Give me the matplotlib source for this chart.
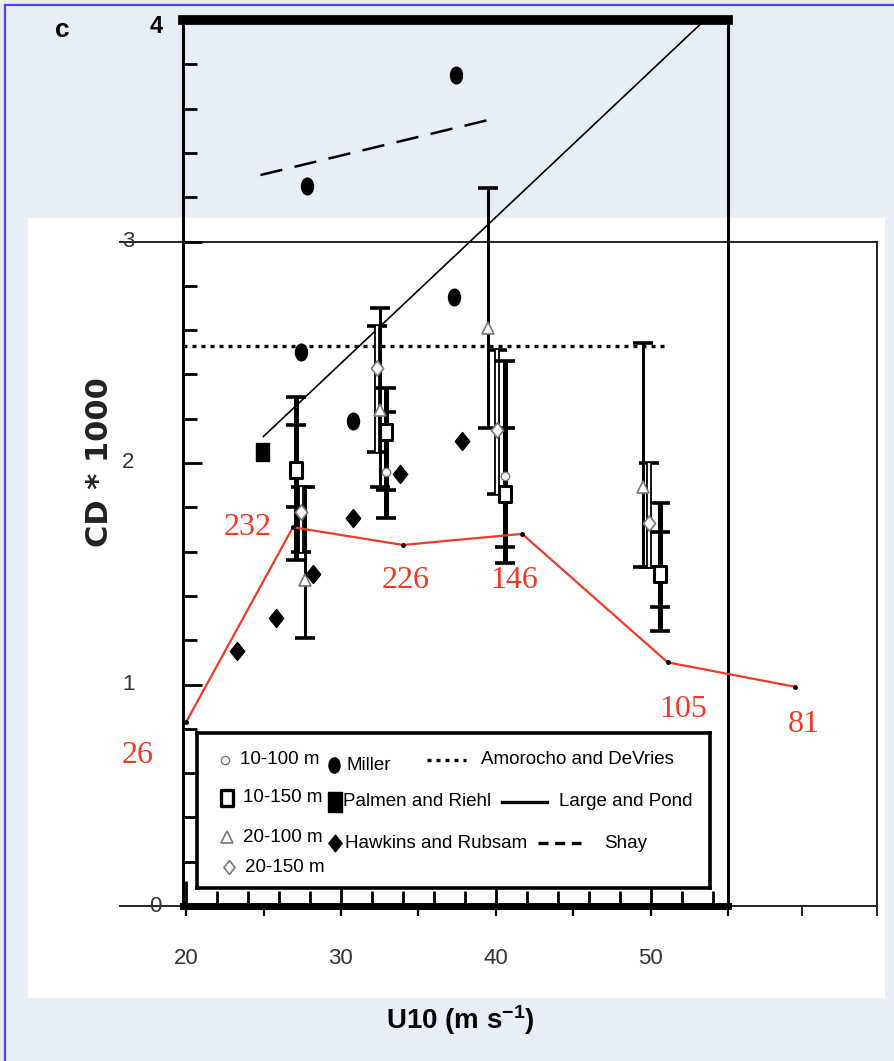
import numpy as np
import matplotlib.pyplot as plt
from matplotlib.path import Path
from matplotlib.lines import Line2D
from matplotlib.patches import Rectangle
from matplotlib.ticker import MultipleLocator

plt.rcParams['font.family'] = ['Liberation Sans', 'DejaVu Sans']
plt.rcParams['mathtext.default'] = 'regular'
SERIF = ['Liberation Serif', 'DejaVu Serif']

# ---- data ----
miller_x = [27.8, 37.4, 27.4, 30.8, 37.3]
miller_y = [3.25, 3.75, 2.50, 2.19, 2.75]
palmen_x = [24.9]
palmen_y = [2.05]
hawkins_x = [37.8, 33.8, 30.8, 28.2, 25.8, 23.3]
hawkins_y = [2.10, 1.95, 1.75, 1.50, 1.30, 1.15]
amorocho_x = [19.8, 50.9]
amorocho_y = [2.53, 2.53]
large_pond_x = [25.0, 53.5]
large_pond_y = [2.12, 4.00]
shay_x = [24.8, 39.6]
shay_y = [3.30, 3.55]

# profile groups: centre, low, high
p10_100_x = [27.1, 32.9, 40.6, 50.6]
p10_100_y = [1.97, 1.96, 1.94, 1.52]
p10_100_lo = [1.80, 1.88, 1.62, 1.35]
p10_100_hi = [2.17, 2.23, 2.16, 1.69]

p10_150_x = [27.1, 32.9, 40.6, 50.6]
p10_150_y = [1.97, 2.14, 1.86, 1.50]
p10_150_lo = [1.56, 1.75, 1.55, 1.24]
p10_150_hi = [2.30, 2.34, 2.46, 1.82]

p20_100_x = [27.7, 32.5, 39.5, 49.5]
p20_100_y = [1.47, 2.24, 2.61, 1.89]
p20_100_lo = [1.21, 1.89, 2.16, 1.53]
p20_100_hi = [1.89, 2.70, 3.24, 2.54]

p20_150_x = [27.4, 32.3, 40.1, 49.9]
p20_150_y = [1.78, 2.43, 2.15, 1.73]
p20_150_lo = [1.60, 2.05, 1.86, 1.53]
p20_150_hi = [1.89, 2.62, 2.51, 2.00]

# red overlay curve and its labels
red_x = [20.0, 26.9, 34.0, 41.7, 51.1, 59.3]
red_y = [0.83, 1.71, 1.63, 1.68, 1.10, 0.99]
red_labels = ['26', '232', '226', '146', '105', '81']
red_label_x = [16.9, 24.0, 34.2, 41.2, 52.1, 59.9]
red_label_y = [0.68, 1.71, 1.47, 1.47, 0.885, 0.82]

# frame of the pasted second chart
ov_left, ov_right = 15.7, 64.6
ov_ticks = [59.8, 64.6]

RED = '#f03a26'
GREY = '#777777'

# custom marker shapes
circ = Path.unit_circle()
ellipse = Path(circ.vertices * [0.72, 1.0], circ.codes)
tall_rect = Path([(-0.36, -0.5), (0.36, -0.5), (0.36, 0.5), (-0.36, 0.5), (-0.36, -0.5)],
                 [Path.MOVETO, Path.LINETO, Path.LINETO, Path.LINETO, Path.CLOSEPOLY])
open_rect = Path([(-0.36, -0.5), (0.36, -0.5), (0.36, 0.5), (-0.36, 0.5), (-0.36, -0.5)],
                 [Path.MOVETO, Path.LINETO, Path.LINETO, Path.LINETO, Path.CLOSEPOLY])
diamond = Path([(0, -0.5), (0.4, 0), (0, 0.5), (-0.4, 0), (0, -0.5)],
               [Path.MOVETO, Path.LINETO, Path.LINETO, Path.LINETO, Path.CLOSEPOLY])

fig = plt.figure(figsize=(8.94, 10.61), dpi=100, facecolor='#e8eef6')
fig.patches.append(Rectangle((28 / 894, 1 - 998 / 1061), 857 / 894, 780 / 1061,
                             transform=fig.transFigure, facecolor='white',
                             edgecolor='none', zorder=-5))
fig.add_artist(Line2D([5 / 894, 5 / 894], [0, 1 - 5 / 1061], transform=fig.transFigure,
                      color='#4a4ae6', lw=1.6))
fig.add_artist(Line2D([5 / 894, 1], [1 - 5 / 1061, 1 - 5 / 1061], transform=fig.transFigure,
                      color='#4a4ae6', lw=1.6))

ax = fig.add_axes([183 / 894, 1 - 906 / 1061, 545 / 894, 886 / 1061])
ax.set_zorder(2)
ax.set_facecolor('none')
ax.set_xlim(19.8, 55)
ax.set_ylim(0, 4)

# second chart frame lines (pasted on top)
ax.plot([ov_left, ov_right], [3, 3], color='#222222', lw=1.4, clip_on=False, zorder=1)
ax.plot([ov_left, ov_right], [0, 0], color='#222222', lw=1.4, clip_on=False, zorder=1)
ax.plot([ov_right, ov_right], [0, 3], color='#222222', lw=1.4, clip_on=False, zorder=1)
for t in ov_ticks:
    ax.plot([t, t], [0, -0.04], color='#222222', lw=1.4, clip_on=False, zorder=1)

# reference curves
ax.plot(amorocho_x, amorocho_y, color='k', lw=2.4, ls=(0, (1.2, 1.5)), zorder=2)
ax.plot(large_pond_x, large_pond_y, color='k', lw=1.2, zorder=2)
ax.plot(shay_x, shay_y, color='k', lw=1.8, ls=(0, (9, 5)), zorder=2)


def bars(x, y, lo, hi, lw, hollow=False):
    err = [np.subtract(y, lo), np.subtract(hi, y)]
    ax.errorbar(x, y, yerr=err, fmt='none', ecolor='k', elinewidth=lw,
                capsize=7, capthick=2.6, zorder=3)
    if hollow:
        ax.errorbar(x, y, yerr=err, fmt='none', ecolor='white', elinewidth=lw - 2.6,
                    capsize=0, zorder=3)


bars(p20_100_x, p20_100_y, p20_100_lo, p20_100_hi, 2.2)
bars(p20_150_x, p20_150_y, p20_150_lo, p20_150_hi, 4.2, hollow=True)
bars(p10_150_x, p10_150_y, p10_150_lo, p10_150_hi, 3.6)
bars(p10_100_x, p10_100_y, p10_100_lo, p10_100_hi, 3.6)

ax.plot(p20_100_x, p20_100_y, ls='none', marker='^', ms=9, mfc='white', mec=GREY, mew=1.2, zorder=4)
ax.plot(p20_150_x, p20_150_y, ls='none', marker=diamond, ms=11, mfc='white', mec=GREY, mew=1.2, zorder=4)
ax.plot(p10_100_x, p10_100_y, ls='none', marker='o', ms=6, mfc='white', mec=GREY, mew=1.0, zorder=4)
ax.plot(p10_150_x, p10_150_y, ls='none', marker=open_rect, ms=12, mfc='white', mec='k', mew=2.2, zorder=4)

ax.plot(miller_x, miller_y, ls='none', marker=ellipse, ms=12, color='k', zorder=4)
ax.plot(palmen_x, palmen_y, ls='none', marker=tall_rect, ms=13, color='k', zorder=4)
ax.plot(hawkins_x, hawkins_y, ls='none', marker=diamond, ms=13, color='k', zorder=4)

# red curve
ax.plot(red_x, red_y, color=RED, lw=1.6, marker='o', ms=2.5, mfc='k', mec='k',
        clip_on=False, zorder=6)
for lx, ly, s in zip(red_label_x, red_label_y, red_labels):
    ax.text(lx, ly, s, color=RED, fontsize=23, family=SERIF, ha='center', va='center',
            clip_on=False, zorder=6)

# spines and ticks
ax.spines['top'].set_linewidth(7)
ax.spines['bottom'].set_linewidth(5)
ax.spines['left'].set_linewidth(2.2)
ax.spines['right'].set_linewidth(2.2)
for s in ax.spines.values():
    s.set_zorder(5)

ax.xaxis.set_major_locator(MultipleLocator(10))
ax.xaxis.set_minor_locator(MultipleLocator(2))
ax.yaxis.set_major_locator(MultipleLocator(1))
ax.yaxis.set_minor_locator(MultipleLocator(0.2))
ax.tick_params(axis='x', which='major', direction='in', length=18, width=2,
               labelsize=16, pad=30, labelcolor='#333333')
ax.tick_params(axis='x', which='minor', direction='in', length=11, width=2)
ax.tick_params(axis='y', which='major', direction='in', length=14, width=2, labelleft=False)
ax.tick_params(axis='y', which='minor', direction='in', length=10, width=2)

sec = ax.secondary_xaxis('bottom')
sec.set_xticks(np.arange(20, 56, 5))
sec.tick_params(direction='out', length=7, width=1.6, labelbottom=False)
sec.spines['bottom'].set_visible(False)

ytr = ax.get_yaxis_transform()
ax.text(-0.05, 3.97, '4', transform=ytr, ha='center', va='center', fontsize=17,
        fontweight='bold')
ax.text(-0.05, 0, '0', transform=ytr, ha='center', va='center', fontsize=16, color='#333333')
for v in [1, 2, 3]:
    ax.text(-0.10, v, str(v), transform=ytr, ha='center', va='center', fontsize=16,
            color='#333333')

# legend box, laid out like the original (coordinates in box pixels, top-left origin)
lax = ax.inset_axes([14 / 545, 18 / 886, 513 / 545, 155 / 886])
lax.set_xlim(0, 513)
lax.set_ylim(155, 0)
lax.set_xticks([])
lax.set_yticks([])
lax.set_facecolor('white')
for s in lax.spines.values():
    s.set_linewidth(2.6)
lax.set_zorder(7)

LFS = 13.5
marker_items = [
    ('10-100 m', 28, 27, 43, dict(marker='o', ms=6, mfc='white', mec=GREY, mew=1.0)),
    ('10-150 m', 30, 65, 46, dict(marker=open_rect, ms=12, mfc='white', mec='k', mew=2.4)),
    ('20-100 m', 30, 104, 46, dict(marker='^', ms=8, mfc='white', mec=GREY, mew=1.2)),
    ('20-150 m', 32, 134, 48, dict(marker=diamond, ms=10, mfc='white', mec=GREY, mew=1.2)),
    ('Miller', 137, 32, 150, dict(marker=ellipse, ms=11, color='k')),
    ('Palmen and Riehl', 138, 69, 146, dict(marker=tall_rect, ms=14, color='k')),
    ('Hawkins and Rubsam', 138, 110, 148, dict(marker=diamond, ms=12, color='k')),
]
for label, mx, my, tx, style in marker_items:
    lax.plot([mx], [my], ls='none', **style)
    lax.text(tx, my, label, fontsize=LFS, va='center', ha='left')

line_items = [
    ('Amorocho and DeVries', 230, 269, 27, 284, (0, (1.2, 1.5))),
    ('Large and Pond', 305, 350, 69, 362, '-'),
    ('Shay', 341, 384, 110, 407, (0, (3, 2))),
]
for label, x0, x1, ly, tx, ls in line_items:
    lax.plot([x0, x1], [ly, ly], color='k', lw=2.4, ls=ls)
    lax.text(tx, ly, label, fontsize=LFS, va='center', ha='left')

fig.text(100 / 894, 1 - 462 / 1061, 'CD * 1000', rotation=90, ha='center', va='center',
         fontsize=22, fontweight='bold', family=['DejaVu Sans'], color='#222222')
fig.text(460 / 894, 1 - 1020 / 1061, r'U10 (m s$^{-1}$)', ha='center', va='center',
         fontsize=20, fontweight='bold')
fig.text(62 / 894, 1 - 30 / 1061, 'c', ha='center', va='center', fontsize=19,
         fontweight='bold')

fig.savefig('out.png', dpi=100, facecolor=fig.get_facecolor())
